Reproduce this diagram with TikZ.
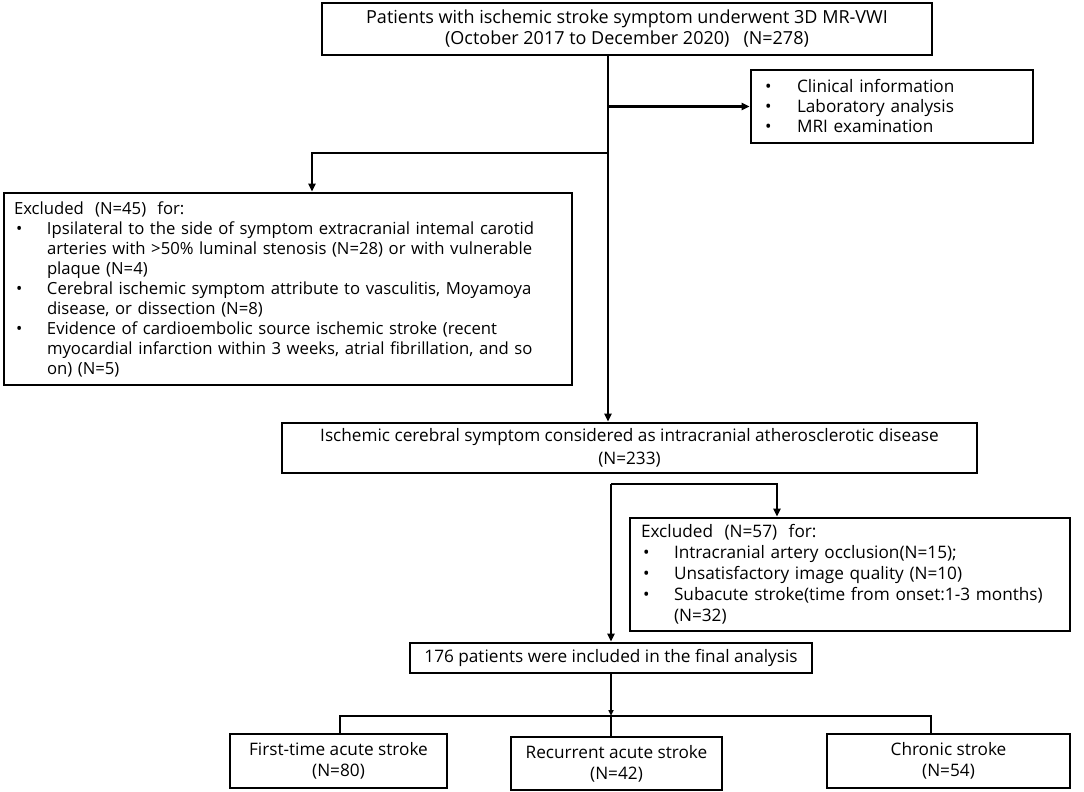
\documentclass[tikz,border=0pt]{standalone}
\usepackage{fontspec}
\setmainfont{Open Sans}
\usetikzlibrary{arrows.meta}
\newcommand\myb{\hspace*{2pt}\makebox[31pt][l]{•}}
\newcommand\myi{\hspace*{33pt}}
\begin{document}
\begin{tikzpicture}[x=1pt,y=-1pt,
  box/.style={draw, line width=2.6pt, inner sep=0pt, font=\fontsize{17.2}{21}\selectfont},
  lbox/.style={box, align=left},
  conn/.style={line width=2.2pt, line join=miter},
  arr/.style={conn, -{Triangle[length=8pt,width=7pt]}},
  sarr/.style={conn, -{Triangle[length=6pt,width=5pt]}}]
\useasboundingbox (0,0) rectangle (1084,792);

% boxes
\node[box, minimum width=610, minimum height=52, align=center,
  font=\fontsize{18}{21}\selectfont] (top) at (627,29)
  {Patients with ischemic stroke symptom underwent 3D MR-VWI\\(October 2017 to December 2020)\ \ \ (N=278)};

\node[lbox, minimum width=282, minimum height=73, text width=254, inner xsep=14,
  font=\fontsize{17.2}{20}\selectfont] (info) at (892,106.5)
  {\mbox{\makebox[32pt][l]{•}Clinical information}\\
   \mbox{\makebox[32pt][l]{•}Laboratory analysis}\\
   \mbox{\makebox[32pt][l]{•}MRI examination}};

\node[lbox, minimum width=568, minimum height=192, text width=548, inner xsep=10,
  font=\fontsize{16.7}{20}\selectfont] (exa) at (288,289)
  {\mbox{Excluded\ \ (N=45)\ \ for:}\\
   \mbox{\myb Ipsilateral to the side of symptom extracranial intemal carotid}\\
   \mbox{\myi arteries with >50\% luminal stenosis (N=28) or with vulnerable}\\
   \mbox{\myi plaque (N=4)}\\
   \mbox{\myb Cerebral ischemic symptom attribute to vasculitis, Moyamoya}\\
   \mbox{\myi disease, or dissection (N=8)}\\
   \mbox{\myb Evidence of cardioembolic source ischemic stroke (recent}\\
   \mbox{\myi myocardial infarction within 3 weeks, atrial fibrillation, and so}\\
   \mbox{\myi on) (N=5)}};

\node[box, minimum width=695, minimum height=50, align=center,
  font=\fontsize{17.2}{23}\selectfont] (mid) at (629.5,448)
  {Ischemic cerebral symptom considered as intracranial atherosclerotic disease\\(N=233)};

\node[lbox, minimum width=440, minimum height=113, text width=418, inner xsep=11,
  font=\fontsize{17.2}{21}\selectfont] (exb) at (850,574.5)
  {\mbox{Excluded\ \ (N=57)\ \ for:}\\
   \mbox{\myb Intracranial artery occlusion(N=15);}\\
   \mbox{\myb Unsatisfactory image quality (N=10)}\\
   \mbox{\myb Subacute stroke(time from onset:1-3 months)}\\
   \mbox{\myi (N=32)}};

\node[box, minimum width=402, minimum height=30] (fin) at (611,658)
  {176 patients were included in the final analysis};

\node[box, minimum width=217, minimum height=54, align=center] (b1) at (338.5,761)
  {First-time acute stroke\\(N=80)};
\node[box, minimum width=211, minimum height=53, align=center] (b2) at (616.5,763.5)
  {Recurrent acute stroke\\(N=42)};
\node[box, minimum width=243, minimum height=54, align=center] (b3) at (948.5,761)
  {Chronic stroke\\(N=54)};

% connectors
\coordinate (tx) at (608,0);
\coordinate (lb) at (312,153);
\draw[arr] (top.south -| tx) -- (mid.north -| tx);
\draw[arr] (tx |- info.west) -- (info.west);
\draw[arr] (tx |- lb) -- (lb) -- (exa.north -| lb);

\coordinate (m) at (611,484);
\coordinate (m2) at (777,484);
\draw[arr] (m) -- (fin.north -| m);
\draw[arr] (m) -- (m2) -- (exb.north -| m2);

\coordinate (bus) at (611,716);
\coordinate (bl) at (340,716);
\coordinate (br) at (931,716);
\draw[conn] (b1.north -| bl) -- (bl) -- (br) -- (b3.north -| br);
\draw[sarr] (fin.south) -- (bus);
\draw[conn] (bus) -- (b2.north -| bus);
\end{tikzpicture}
\end{document}
